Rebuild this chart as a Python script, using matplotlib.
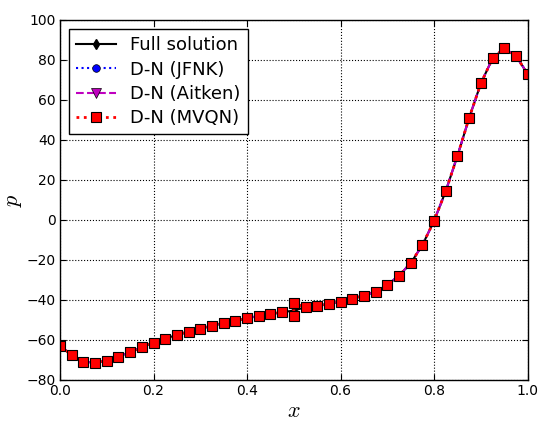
import numpy as np
import matplotlib
matplotlib.use("Agg")
import matplotlib.pyplot as plt

# Pressure along the domain; the Dirichlet-Neumann solutions are split at x = 0.5
x_left = [0.0, 0.025, 0.05, 0.075, 0.1, 0.125, 0.15, 0.175, 0.2, 0.225, 0.25,
          0.275, 0.3, 0.325, 0.35, 0.375, 0.4, 0.425, 0.45, 0.475, 0.5]
p_left = [-63.0, -67.5, -70.8, -71.3, -70.3, -68.3, -66.0, -63.6, -61.3, -59.3, -57.5,
          -55.8, -54.3, -52.8, -51.6, -50.5, -49.1, -48.0, -47.0, -46.1, -48.0]
x_right = [0.5, 0.525, 0.55, 0.575, 0.6, 0.625, 0.65, 0.675, 0.7, 0.725, 0.75,
           0.775, 0.8, 0.825, 0.85, 0.875, 0.9, 0.925, 0.95, 0.975, 1.0]
p_right = [-41.7, -43.6, -42.8, -42.0, -40.8, -39.3, -37.8, -35.8, -32.5, -27.8, -21.6,
           -12.5, -0.4, 14.5, 32.1, 51.1, 68.3, 80.8, 85.8, 82.1, 73.0]

# Monolithic reference solution
x_full = x_left[:-1] + x_right
p_full = p_left[:-1] + [-45.3] + p_right[1:]

x_dn = x_left + x_right
p_jfnk = p_left + p_right
p_aitken = p_left + p_right
p_mvqn = p_left + p_right

plt.rcParams['font.family'] = ['DejaVu Sans']
plt.rcParams['mathtext.fontset'] = 'cm'

fig = plt.figure(figsize=(5.42, 4.24), dpi=100)
ax = fig.add_axes([0.1107, 0.1038, 0.8628, 0.8491])

ax.plot(x_full, p_full, color='k', linestyle='-', linewidth=1.5,
        marker='d', markersize=5, markerfacecolor='k', markeredgecolor='k',
        label='Full solution')
ax.plot(x_dn, p_jfnk, color='b', linestyle=':', linewidth=1.5,
        marker='o', markersize=5.5, markerfacecolor='b', markeredgecolor='k',
        markeredgewidth=0.5, label='D-N (JFNK)')
ax.plot(x_dn, p_aitken, color='m', linestyle='--', linewidth=1.5,
        marker='v', markersize=6.5, markerfacecolor='m', markeredgecolor='k',
        markeredgewidth=0.5, label='D-N (Aitken)')
ax.plot(x_dn, p_mvqn, color='r', linestyle=':', linewidth=2,
        marker='s', markersize=6.5, markerfacecolor='r', markeredgecolor='k',
        markeredgewidth=0.8, label='D-N (MVQN)')

ax.set_xlim(0, 1)
ax.set_ylim(-80, 100)
ax.set_xticks(np.arange(0, 1.01, 0.2))
ax.set_yticks(np.arange(-80, 101, 20))
ax.tick_params(direction='in', top=True, right=True, labelsize=10, length=4,
               pad=3)
ax.grid(True, color='k', linestyle=':', linewidth=0.8)
for s in ax.spines.values():
    s.set_linewidth(1.0)

ax.set_xlabel('$x$', fontsize=16, labelpad=2)
ax.set_ylabel('$p$', fontsize=16, labelpad=2)

leg = ax.legend(loc='upper left', numpoints=1, fontsize=13, fancybox=False,
                handlelength=2.2, borderaxespad=0.5, labelspacing=0.35,
                framealpha=1)
leg.get_frame().set_edgecolor('k')
leg.get_frame().set_linewidth(1.0)

fig.savefig('out.png', dpi=100, facecolor='white')
